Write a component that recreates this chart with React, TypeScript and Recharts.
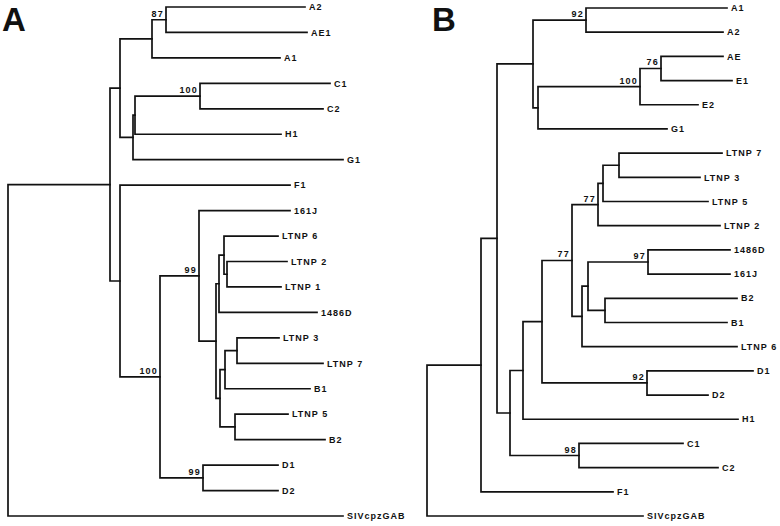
import React from 'react';
import { ComposedChart, Line, Scatter, XAxis, YAxis } from 'recharts';

// leaf: [name, distance from root]
type Leaf = [string, number];
// internal node: [id, distance from root, child 1, child 2, bootstrap]
type Node = [string, number, string, string, number | null];

const treeALeaves: Leaf[] = [
  ['A2', 297], ['AE1', 299], ['A1', 272], ['C1', 322], ['C2', 315], ['H1', 273], ['G1', 335],
  ['F1', 282], ['161J', 282], ['LTNP 6', 270], ['LTNP 2', 279], ['LTNP 1', 273], ['1486D', 309],
  ['LTNP 3', 271], ['LTNP 7', 315], ['B1', 302], ['LTNP 5', 280], ['B2', 317], ['D1', 270],
  ['D2', 270], ['SIVcpzGAB', 335],
];

const treeANodes: Node[] = [
  ['a1', 158, 'A2', 'AE1', 87],
  ['a2', 144, 'a1', 'A1', null],
  ['a3', 192, 'C1', 'C2', 100],
  ['a4', 127, 'a3', 'H1', null],
  ['a5', 125, 'a4', 'G1', null],
  ['a6', 112, 'a2', 'a5', null],
  ['a7', 219, 'LTNP 2', 'LTNP 1', null],
  ['a8', 216, 'LTNP 6', 'a7', null],
  ['a9', 211, 'a8', '1486D', null],
  ['a10', 229, 'LTNP 3', 'LTNP 7', null],
  ['a11', 217, 'a10', 'B1', null],
  ['a12', 227, 'LTNP 5', 'B2', null],
  ['a13', 212, 'a11', 'a12', null],
  ['a14', 208, 'a9', 'a13', null],
  ['a15', 191, '161J', 'a14', 99],
  ['a16', 195, 'D1', 'D2', 99],
  ['a17', 152, 'a15', 'a16', 100],
  ['a18', 112, 'F1', 'a17', null],
  ['a19', 102, 'a6', 'a18', null],
  ['a20', 0, 'a19', 'SIVcpzGAB', null],
];

const treeBLeaves: Leaf[] = [
  ['A1', 300], ['A2', 296], ['AE', 296], ['E1', 305], ['E2', 271], ['G1', 240],
  ['LTNP 7', 295], ['LTNP 3', 273], ['LTNP 5', 281], ['LTNP 2', 293], ['1486D', 303],
  ['161J', 303], ['B2', 310], ['B1', 300], ['LTNP 6', 310], ['D1', 326], ['D2', 281],
  ['H1', 311], ['C1', 256], ['C2', 291], ['F1', 186], ['SIVcpzGAB', 216],
];

const treeBNodes: Node[] = [
  ['b1', 159, 'A1', 'A2', 92],
  ['b2', 234, 'AE', 'E1', 76],
  ['b3', 213, 'b2', 'E2', 100],
  ['b4', 111, 'b3', 'G1', null],
  ['b5', 106, 'b1', 'b4', null],
  ['b6', 192, 'LTNP 7', 'LTNP 3', null],
  ['b7', 176, 'b6', 'LTNP 5', null],
  ['b8', 171, 'b7', 'LTNP 2', 77],
  ['b9', 221, '1486D', '161J', 97],
  ['b10', 178, 'B2', 'B1', null],
  ['b11', 161, 'b9', 'b10', null],
  ['b12', 155, 'b11', 'LTNP 6', null],
  ['b13', 145, 'b8', 'b12', 77],
  ['b14', 220, 'D1', 'D2', 92],
  ['b15', 115, 'b13', 'b14', null],
  ['b16', 96, 'b15', 'H1', null],
  ['b17', 152, 'C1', 'C2', 98],
  ['b18', 83, 'b16', 'b17', null],
  ['b19', 70, 'b5', 'b18', null],
  ['b20', 54, 'b19', 'F1', null],
  ['b21', 0, 'b20', 'SIVcpzGAB', null],
];

const FONT = '"Liberation Sans", Arial, Helvetica, sans-serif';
const INK = '#111';

function layout(leaves: Leaf[], nodes: Node[]) {
  const pos: Record<string, { x: number; y: number }> = {};
  leaves.forEach(([name, d], i) => { pos[name] = { x: d, y: i }; });
  nodes.forEach(([id, d, c1, c2]) => { pos[id] = { x: d, y: (pos[c1].y + pos[c2].y) / 2 }; });
  const branches = nodes.map(([id, d, c1, c2]) => {
    const a = pos[c1], b = pos[c2];
    return { id, pts: [{ x: a.x, y: a.y }, { x: d, y: a.y }, { x: d, y: b.y }, { x: b.x, y: b.y }] };
  });
  const tips = leaves.map(([name]) => ({ ...pos[name], name }));
  const boots = nodes.filter(n => n[4] != null).map(([id, , , , b]) => ({ ...pos[id], boot: b }));
  return { branches, tips, boots };
}

const LeafLabel = (props: any) => (
  <text x={props.cx + 4} y={props.cy + 3.2} fontFamily={FONT} fontWeight="bold" fontSize={9}
    letterSpacing={1} fill={INK}>{props.payload.name}</text>
);

const BootLabel = (props: any) => (
  <text x={props.cx - 2} y={props.cy - 3} textAnchor="end" fontFamily={FONT} fontWeight="bold"
    fontSize={9} letterSpacing={1.2} fill={INK}>{props.payload.boot}</text>
);

const Tree: React.FC<{ leaves: Leaf[]; nodes: Node[]; left: number; top: number; bottom: number; xMax: number; extra: number }> = ({ leaves, nodes, left, top, bottom, xMax, extra }) => {
  const { branches, tips, boots } = layout(leaves, nodes);
  return (
    <ComposedChart width={390 + extra} height={526} margin={{ top, right: extra, bottom, left }}>
      <XAxis type="number" dataKey="x" domain={[0, xMax]} hide />
      <YAxis type="number" dataKey="y" domain={[0, leaves.length - 1]} reversed hide />
      {branches.map(b => (
        <Line key={b.id} data={b.pts} dataKey="y" type="linear" stroke={INK} strokeWidth={1.7}
          dot={false} activeDot={false} isAnimationActive={false} legendType="none" strokeLinecap="square" />
      ))}
      <Scatter data={tips} shape={LeafLabel} isAnimationActive={false} legendType="none" />
      <Scatter data={boots} shape={BootLabel} isAnimationActive={false} legendType="none" />
    </ComposedChart>
  );
};

const App: React.FC = () => (
  <div style={{ position: 'absolute', left: 0, top: 0, width: 780, height: 526, background: '#fff', overflow: 'hidden' }}>
    <div style={{ position: 'absolute', left: 0, top: 0 }}>
      <Tree leaves={treeALeaves} nodes={treeANodes} left={8} top={7} bottom={10} xMax={382} extra={40} />
    </div>
    <div style={{ position: 'absolute', left: 390, top: 0 }}>
      <Tree leaves={treeBLeaves} nodes={treeBNodes} left={37} top={8} bottom={10} xMax={353} extra={0} />
    </div>
    <div style={{ position: 'absolute', left: 2, top: 1, fontFamily: FONT, fontWeight: 'bold', fontSize: 33, color: INK }}>A</div>
    <div style={{ position: 'absolute', left: 432, top: 1, fontFamily: FONT, fontWeight: 'bold', fontSize: 33, color: INK }}>B</div>
  </div>
);

export default App;
